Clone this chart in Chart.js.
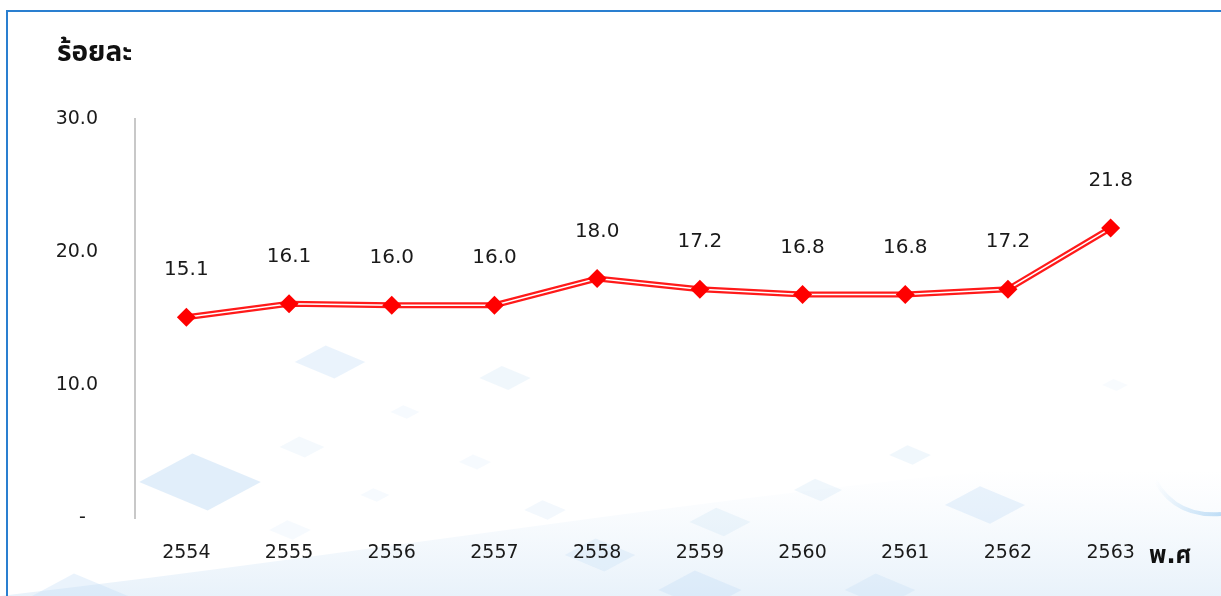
<!DOCTYPE html>
<html>
<head>
<meta charset="utf-8">
<script src="https://cdn.jsdelivr.net/npm/chart.js@4/dist/chart.umd.min.js"></script>
<style>
  html, body { margin: 0; padding: 0; background: #fff; }
  #wrap { width: 1221px; height: 596px; position: relative; }
</style>
</head>
<body>
<div id="wrap"><canvas id="lineChart" width="1221" height="596"></canvas></div>
<script>
var years = ['2554', '2555', '2556', '2557', '2558', '2559', '2560', '2561', '2562', '2563'];
var percent = [15.1, 16.1, 16.0, 16.0, 18.0, 17.2, 16.8, 16.8, 17.2, 21.8];
var yTicks = [0, 10, 20, 30];

var FONT = "'DejaVu Sans', Tahoma, 'Noto Sans Thai', sans-serif";

// faint background squares and the swoosh, drawn before the chart
var backdrop = {
    id: 'backdrop',
    beforeDraw: function (chart) {
        var c = chart.ctx;
        c.save();
        c.fillStyle = '#fff';
        c.fillRect(0, 0, chart.width, chart.height);

        var g = c.createLinearGradient(0, 470, 0, 596);
        g.addColorStop(0, 'rgba(220,235,248,0)');
        g.addColorStop(1, 'rgba(205,226,245,0.45)');
        c.fillStyle = g;
        c.beginPath();
        c.moveTo(0, 596);
        c.bezierCurveTo(400, 550, 800, 480, 1221, 450);
        c.lineTo(1221, 596);
        c.closePath();
        c.fill();

        var g2 = c.createLinearGradient(1150, 500, 1221, 520);
        g2.addColorStop(0, 'rgba(150,200,240,0)');
        g2.addColorStop(1, 'rgba(150,200,240,0.6)');
        c.strokeStyle = g2;
        c.lineWidth = 4;
        c.beginPath();
        c.moveTo(1150, 470);
        c.quadraticCurveTo(1170, 518, 1221, 514);
        c.stroke();

        var sq = [[330, 362, 22, 0.35], [505, 378, 16, 0.25], [405, 412, 9, 0.15], [302, 447, 14, 0.18],
                  [200, 482, 38, 0.5], [375, 495, 9, 0.15], [475, 462, 10, 0.15], [545, 510, 13, 0.2],
                  [290, 530, 13, 0.15], [600, 555, 22, 0.3], [720, 522, 19, 0.25], [818, 490, 15, 0.25],
                  [910, 455, 13, 0.25], [985, 505, 25, 0.35], [1115, 385, 8, 0.12], [700, 590, 26, 0.35],
                  [880, 590, 22, 0.3], [80, 596, 30, 0.35]];
        sq.forEach(function (s) {
            c.fillStyle = 'rgba(195,222,245,' + s[3] + ')';
            c.beginPath();
            c.moveTo(s[0] - s[2] * 1.6, s[1]);
            c.lineTo(s[0] - s[2] * 0.2, s[1] - s[2] * 0.75);
            c.lineTo(s[0] + s[2] * 1.6, s[1]);
            c.lineTo(s[0] + s[2] * 0.2, s[1] + s[2] * 0.75);
            c.closePath();
            c.fill();
        });

        // outer frame
        c.fillStyle = '#2a7fd0';
        c.fillRect(6, 10, 1215, 2);
        c.fillRect(6, 10, 2, 586);
        c.restore();
    }
};

var labelsPlugin = {
    id: 'labelsPlugin',
    afterDatasetsDraw: function (chart) {
        var c = chart.ctx;
        var meta = chart.getDatasetMeta(2);
        c.save();
        c.fillStyle = '#1a1a1a';
        c.font = '20px ' + FONT;
        c.textAlign = 'center';
        c.textBaseline = 'middle';
        meta.data.forEach(function (pt, i) {
            c.fillText(percent[i].toFixed(1), pt.x, pt.y - 47);
        });
        c.fillStyle = '#111';
        c.font = 'bold 28px ' + FONT;
        c.textAlign = 'left';
        c.fillText('ร้อยละ', 57, 54);
        c.font = 'bold 24px ' + FONT;
        c.fillText('พ.ศ', 1149, 557);
        c.restore();
    }
};

var ctx = document.getElementById('lineChart');
var myChart = new Chart(ctx, {
    type: 'line',
    data: {
        labels: years,
        datasets: [
            {
                data: percent,
                borderColor: '#ff1a1a',
                borderWidth: 6,
                pointRadius: 0,
                tension: 0,
                order: 3
            },
            {
                data: percent,
                borderColor: '#ffffff',
                borderWidth: 1.5,
                pointRadius: 0,
                tension: 0,
                order: 2
            },
            {
                data: percent,
                showLine: false,
                pointStyle: 'rectRot',
                pointRadius: 9.5,
                pointBackgroundColor: '#ff0000',
                pointBorderColor: '#ff0000',
                pointBorderWidth: 0,
                order: 1
            }
        ]
    },
    options: {
        responsive: false,
        animation: false,
        layout: { padding: { top: 119, right: 59, left: 0, bottom: 0 } },
        plugins: { legend: { display: false }, tooltip: { enabled: false } },
        scales: {
            x: {
                offset: true,
                grid: { display: false, drawTicks: false },
                border: { display: false },
                ticks: { color: '#1a1a1a', font: { family: FONT, size: 19 }, padding: 24 },
                afterFit: function (s) { s.height = 78; }
            },
            y: {
                min: 0,
                max: 30,
                afterBuildTicks: function (s) { s.ticks = yTicks.map(function (v) { return { value: v }; }); },
                grid: { display: false, drawTicks: false },
                border: { display: true, color: '#c8c8c8', width: 2 },
                ticks: {
                    color: '#1a1a1a',
                    font: { family: FONT, size: 19 },
                    padding: 37,
                    callback: function (v) { return v === 0 ? '-  ' : v.toFixed(1); }
                },
                afterFit: function (s) { s.width = 135; }
            }
        }
    },
    plugins: [backdrop, labelsPlugin]
});
</script>
</body>
</html>
